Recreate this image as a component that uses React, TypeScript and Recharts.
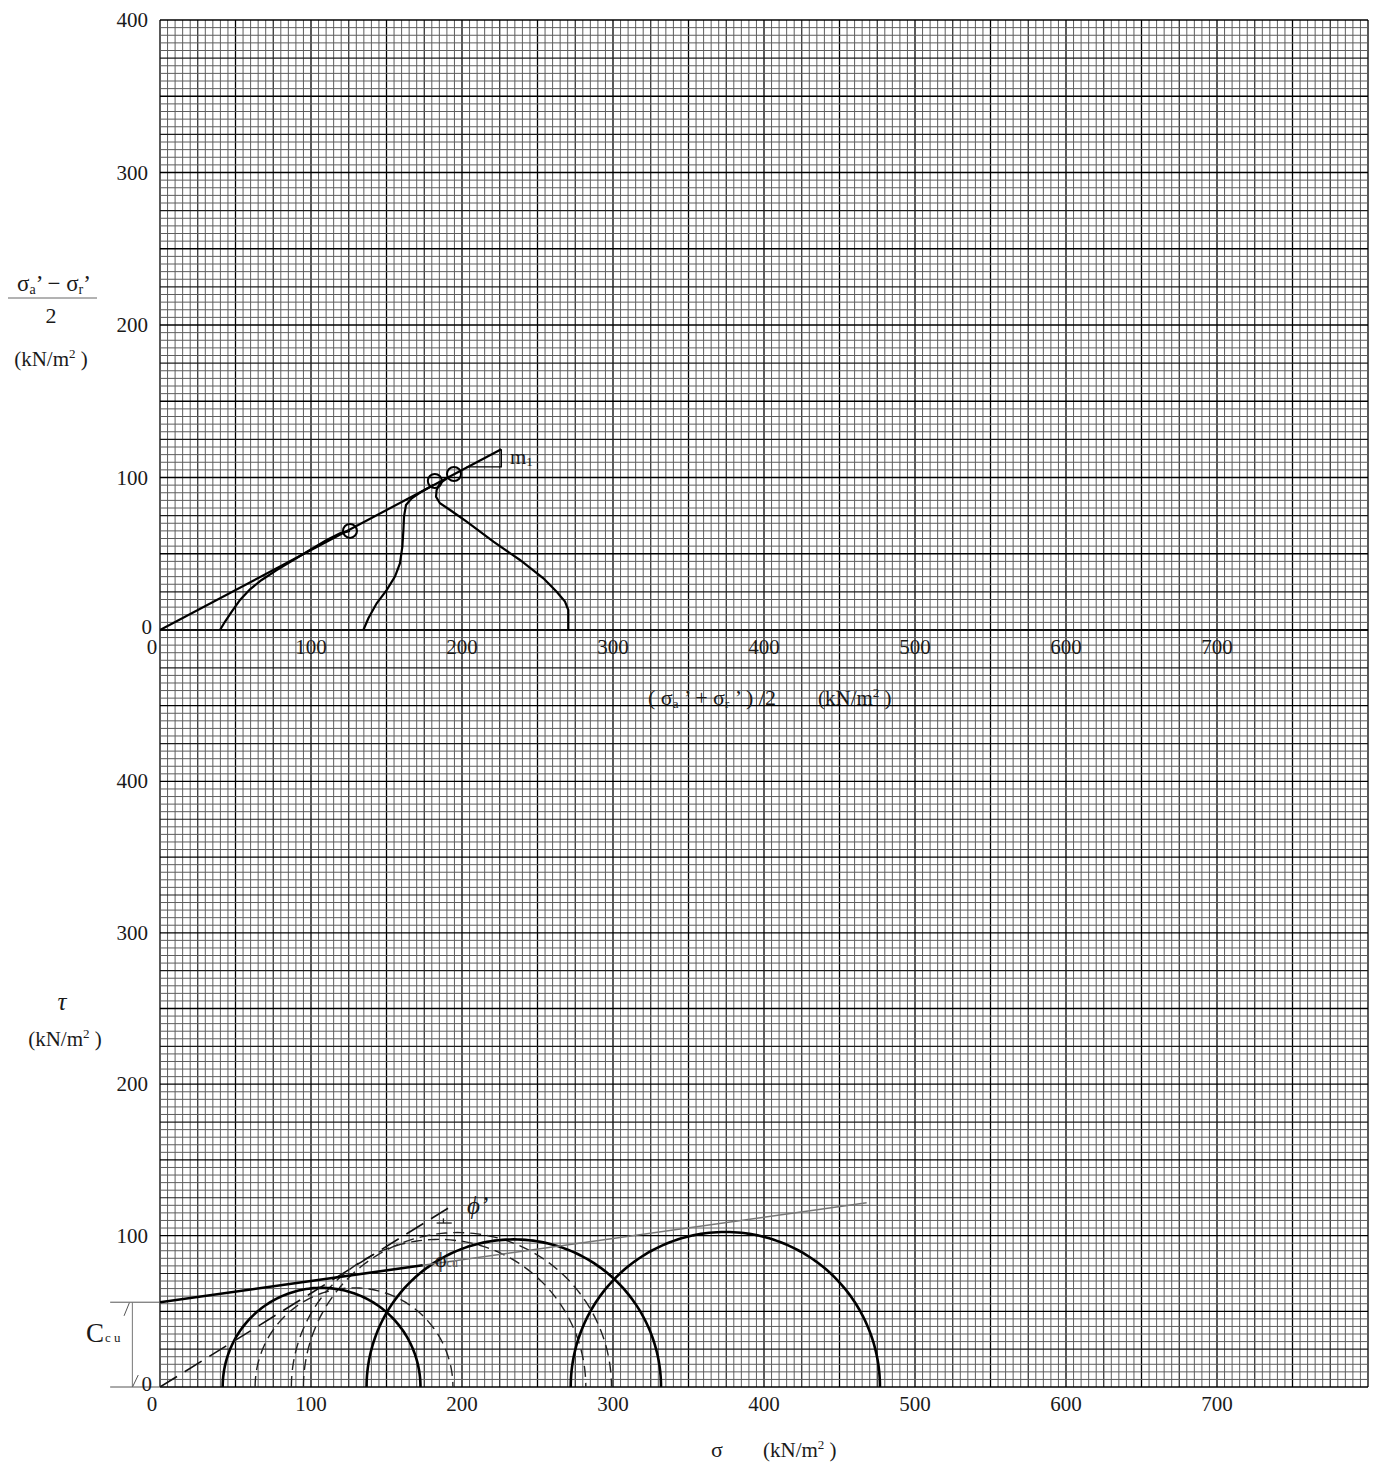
// Triaxial CU test sheet: stress paths (top) and Mohr circles (bottom) on graph paper.
import { ComposedChart, Line, Scatter, XAxis, YAxis, ReferenceLine } from 'recharts'

const SERIF = '"Liberation Serif", "DejaVu Serif", serif'
const INK = '#1a1a1a'

// axis ticks
const sigmaTicks = [0, 100, 200, 300, 400, 500, 600, 700]
const stressTicks = [0, 100, 200, 300, 400]

// top panel: p' = (σa'+σr')/2  vs  q = (σa'−σr')/2
const path1P = [39.7, 43, 47.5, 53, 59.6, 67.3, 77.3, 88.3, 99.3, 110.4, 119.2, 125.8]
const path1Q = [0, 5.4, 12, 19.7, 26.7, 32.8, 39.3, 45.9, 52.5, 59, 63.4, 65]
const path2P = [134.7, 138, 143.5, 150.1, 155.6, 158.9, 160.5, 161.2, 161.6, 162.9, 166.7, 173.3, 181]
const path2Q = [0, 7.7, 17.5, 26.2, 35, 43.7, 54.6, 65.6, 74.3, 82, 86.4, 90.7, 95.1]
const path3P = [270.4, 270.4, 268.2, 262.7, 253.9, 238.4, 220.8, 203.1, 192.1, 185.4, 182.8, 183.2, 185.4, 190]
const path3Q = [0, 13.1, 18.6, 25.1, 33.9, 45.9, 57.9, 71, 78.7, 83.1, 87.4, 91.8, 96.2, 99.5]
const failP = [125.8, 182, 194.7]
const failQ = [65, 97.7, 102.3]
const kfLineP = [0, 226]
const kfLineQ = [0, 118.5]
const m1P = [203, 226, 226]
const m1Q = [107, 107, 118.5]

// bottom panel: Mohr circles (total = solid, effective = dashed)
const totalCentre = [107, 234.3, 374.4]
const totalRadius = [65.5, 97.5, 102.4]
const effCentre = [128.5, 184.5, 197]
const effRadius = [65.5, 97.5, 102]
const cCu = 56
const envCuSigma = [0, 174]
const envCuTau = [56, 80.4]
const envCuExtSigma = [174, 468]
const envCuExtTau = [80.4, 121.7]
const envEffSigma = [0, 193]
const envEffTau = [0, 119.5]
const phiMarkSigma = [183.2, 193.2]
const phiMarkTau = [108.3, 108.3]
const phiTickSigma = [187.7, 187.7]
const phiTickTau = [108.3, 111.4]

const pairs = (xs: number[], ys: number[]) => xs.map((x, i) => ({ x, y: ys[i] }))

// upper half of a Mohr circle from its centre and radius (both)
const mohrArc = (c: number, r: number) =>
  Array.from({ length: 121 }, (_, k) => {
    const t = Math.PI - (Math.PI * k) / 120
    return { x: c + r * Math.cos(t), y: r * Math.sin(t) }
  })

const steps = (max: number, step: number) =>
  Array.from({ length: max / step + 1 }, (_, i) => i * step)

const gridStroke = (v: number) => (v % 50 === 0 ? '#000' : v % 25 === 0 ? '#1c1c1c' : '#5e5e5e')
const gridWidth = (v: number) => (v % 50 === 0 ? 1.3 : v % 25 === 0 ? 1.15 : 1)

const XTick = (props: any) => {
  const { x, y, payload } = props
  const nudge = payload.value === 0 ? -8 : 0
  return (
    <text x={x + nudge} y={y + 16} textAnchor="middle" fontSize={21} fontFamily={SERIF} fill={INK}>
      {payload.value}
    </text>
  )
}

const YTick = (props: any) => {
  const { x, y, payload } = props
  const zero = payload.value === 0
  return (
    <text x={x - 4 + (zero ? 4 : 0)} y={y + 7 + (zero ? -3 : 0)} textAnchor="end" fontSize={21} fontFamily={SERIF} fill={INK}>
      {payload.value}
    </text>
  )
}

const ringShape = (p: any) => (
  <circle cx={p.cx} cy={p.cy} r={7} fill="none" stroke="#000" strokeWidth={2} />
)

function gridLines(xMax: number, yMax: number) {
  return [
    ...steps(xMax, 5).map((v) => (
      <ReferenceLine key={'gx' + v} x={v} stroke={gridStroke(v)} strokeWidth={gridWidth(v)} />
    )),
    ...steps(yMax, 5).map((v) => (
      <ReferenceLine key={'gy' + v} y={v} stroke={gridStroke(v)} strokeWidth={gridWidth(v)} />
    )),
  ]
}

function StressPathChart() {
  return (
    <ComposedChart width={1375} height={700} margin={{ top: 20, right: 7, bottom: 30, left: 100 }}>
      <XAxis
        type="number"
        dataKey="x"
        domain={[0, 800]}
        allowDataOverflow
        ticks={sigmaTicks}
        interval={0}
        height={40}
        axisLine={false}
        tickLine={false}
        tick={<XTick />}
      />
      <YAxis
        type="number"
        dataKey="y"
        domain={[0, 400]}
        allowDataOverflow
        ticks={stressTicks}
        interval={0}
        width={60}
        axisLine={false}
        tickLine={false}
        tick={<YTick />}
      />
      {gridLines(800, 400)}
      <Line data={pairs(kfLineP, kfLineQ)} dataKey="y" stroke="#000" strokeWidth={2.2} dot={false} isAnimationActive={false} />
      <Line data={pairs(m1P, m1Q)} dataKey="y" stroke="#000" strokeWidth={1.4} dot={false} isAnimationActive={false} />
      <Line data={pairs(path1P, path1Q)} dataKey="y" stroke="#000" strokeWidth={2.2} dot={false} isAnimationActive={false} />
      <Line data={pairs(path2P, path2Q)} dataKey="y" stroke="#000" strokeWidth={2.2} dot={false} isAnimationActive={false} />
      <Line data={pairs(path3P, path3Q)} dataKey="y" stroke="#000" strokeWidth={2.2} dot={false} isAnimationActive={false} />
      <Scatter data={pairs(failP, failQ)} dataKey="y" shape={ringShape} isAnimationActive={false} />
    </ComposedChart>
  )
}

function MohrChart() {
  const seg = (xs: number[], ys: number[]) => [
    { x: xs[0], y: ys[0] },
    { x: xs[1], y: ys[1] },
  ]
  return (
    <ComposedChart width={1375} height={1464} margin={{ top: 630, right: 7, bottom: 37, left: 100 }}>
      <XAxis
        type="number"
        dataKey="x"
        domain={[0, 800]}
        allowDataOverflow
        ticks={sigmaTicks}
        interval={0}
        height={40}
        axisLine={false}
        tickLine={false}
        tick={<XTick />}
      />
      <YAxis
        type="number"
        dataKey="y"
        domain={[0, 500]}
        allowDataOverflow
        ticks={stressTicks}
        interval={0}
        width={60}
        axisLine={false}
        tickLine={false}
        tick={<YTick />}
      />
      {gridLines(800, 500)}
      {/* Ccu bracket left of the sheet */}
      <ReferenceLine segment={[{ x: -33, y: cCu }, { x: 0, y: cCu }]} ifOverflow="visible" stroke="#555" strokeWidth={1} />
      <ReferenceLine segment={[{ x: -33, y: 0 }, { x: 0, y: 0 }]} ifOverflow="visible" stroke="#555" strokeWidth={1} />
      <ReferenceLine segment={[{ x: -18.3, y: 0 }, { x: -18.3, y: cCu }]} ifOverflow="visible" stroke="#777" strokeWidth={1} />
      <ReferenceLine segment={[{ x: -23.8, y: cCu - 9 }, { x: -20.3, y: cCu - 0.4 }]} ifOverflow="visible" stroke="#555" strokeWidth={1} />
      <ReferenceLine segment={[{ x: -18.1, y: 0.2 }, { x: -14.4, y: 7.9 }]} ifOverflow="visible" stroke="#555" strokeWidth={1} />

      {effCentre.map((c, i) => (
        <Line
          key={'eff' + i}
          data={mohrArc(c, effRadius[i])}
          dataKey="y"
          stroke="#222"
          strokeWidth={1.4}
          strokeDasharray="11 6"
          dot={false}
          isAnimationActive={false}
        />
      ))}
      {totalCentre.map((c, i) => (
        <Line
          key={'tot' + i}
          data={mohrArc(c, totalRadius[i])}
          dataKey="y"
          stroke="#000"
          strokeWidth={2.6}
          dot={false}
          isAnimationActive={false}
        />
      ))}
      <Line data={pairs(envEffSigma, envEffTau)} dataKey="y" stroke="#111" strokeWidth={1.6} strokeDasharray="20 9" dot={false} isAnimationActive={false} />
      <Line data={pairs(envCuExtSigma, envCuExtTau)} dataKey="y" stroke="#777" strokeWidth={1.4} dot={false} isAnimationActive={false} />
      <Line data={pairs(envCuSigma, envCuTau)} dataKey="y" stroke="#000" strokeWidth={2.6} dot={false} isAnimationActive={false} />
      <ReferenceLine segment={seg(phiMarkSigma, phiMarkTau)} stroke="#222" strokeWidth={1.3} />
      <ReferenceLine segment={seg(phiTickSigma, phiTickTau)} stroke="#222" strokeWidth={1.3} />
    </ComposedChart>
  )
}

export default function App() {
  const t = { fontFamily: SERIF, fill: INK }
  return (
    <div style={{ position: 'relative', width: 1375, height: 1464, background: '#fff' }}>
      <style>{'body{margin:0}'}</style>
      <div style={{ position: 'absolute', left: 0, top: 0 }}>
        <MohrChart />
      </div>
      <div style={{ position: 'absolute', left: 0, top: 0 }}>
        <StressPathChart />
      </div>
      <svg width={1375} height={1464} style={{ position: 'absolute', left: 0, top: 0, pointerEvents: 'none' }}>
        {/* top panel y title */}
        <text x={54} y={291} textAnchor="middle" fontSize={23} {...t}>
          σ<tspan fontSize={14} dy={3}>a</tspan>
          <tspan dy={-3}>’ − σ</tspan>
          <tspan fontSize={14} dy={3}>r</tspan>
          <tspan dy={-3}>’</tspan>
        </text>
        <line x1={8} x2={97} y1={298} y2={298} stroke="#666" strokeWidth={1} />
        <text x={51} y={323} textAnchor="middle" fontSize={22} {...t}>2</text>
        <text x={51} y={366} textAnchor="middle" fontSize={21} {...t}>
          (kN/m<tspan fontSize={13} dy={-8}>2</tspan>
          <tspan dy={8}> )</tspan>
        </text>

        {/* top panel x title */}
        <text x={648} y={705} fontSize={22} {...t}>
          ( σ<tspan fontSize={13} dy={3}>a</tspan>
          <tspan dy={-3}> ’ + σ</tspan>
          <tspan fontSize={13} dy={3}>r</tspan>
          <tspan dy={-3}> ’ ) /2</tspan>
        </text>
        <text x={818} y={705} fontSize={21} {...t}>
          (kN/m<tspan fontSize={13} dy={-8}>2</tspan>
          <tspan dy={8}> )</tspan>
        </text>
        <text x={510} y={464} fontSize={21} {...t}>
          m<tspan fontSize={13} dy={2}>1</tspan>
        </text>

        {/* bottom panel titles */}
        <text x={62} y={1010} textAnchor="middle" fontSize={25} fontStyle="italic" {...t}>τ</text>
        <text x={65} y={1046} textAnchor="middle" fontSize={21} {...t}>
          (kN/m<tspan fontSize={13} dy={-8}>2</tspan>
          <tspan dy={8}> )</tspan>
        </text>
        <text x={717} y={1457} textAnchor="middle" fontSize={22} {...t}>σ</text>
        <text x={763} y={1457} fontSize={21} {...t}>
          (kN/m<tspan fontSize={13} dy={-8}>2</tspan>
          <tspan dy={8}> )</tspan>
        </text>
        <text x={86} y={1342} fontSize={27} {...t}>
          C<tspan fontSize={13} dx={1}>c u</tspan>
        </text>
        <text x={467} y={1214} fontSize={25} fontStyle="italic" {...t}>ϕ’</text>
        <text x={435} y={1267} fontSize={22} {...t}>
          ϕ<tspan fontSize={12} fill="#555">cu</tspan>
        </text>
      </svg>
    </div>
  )
}
